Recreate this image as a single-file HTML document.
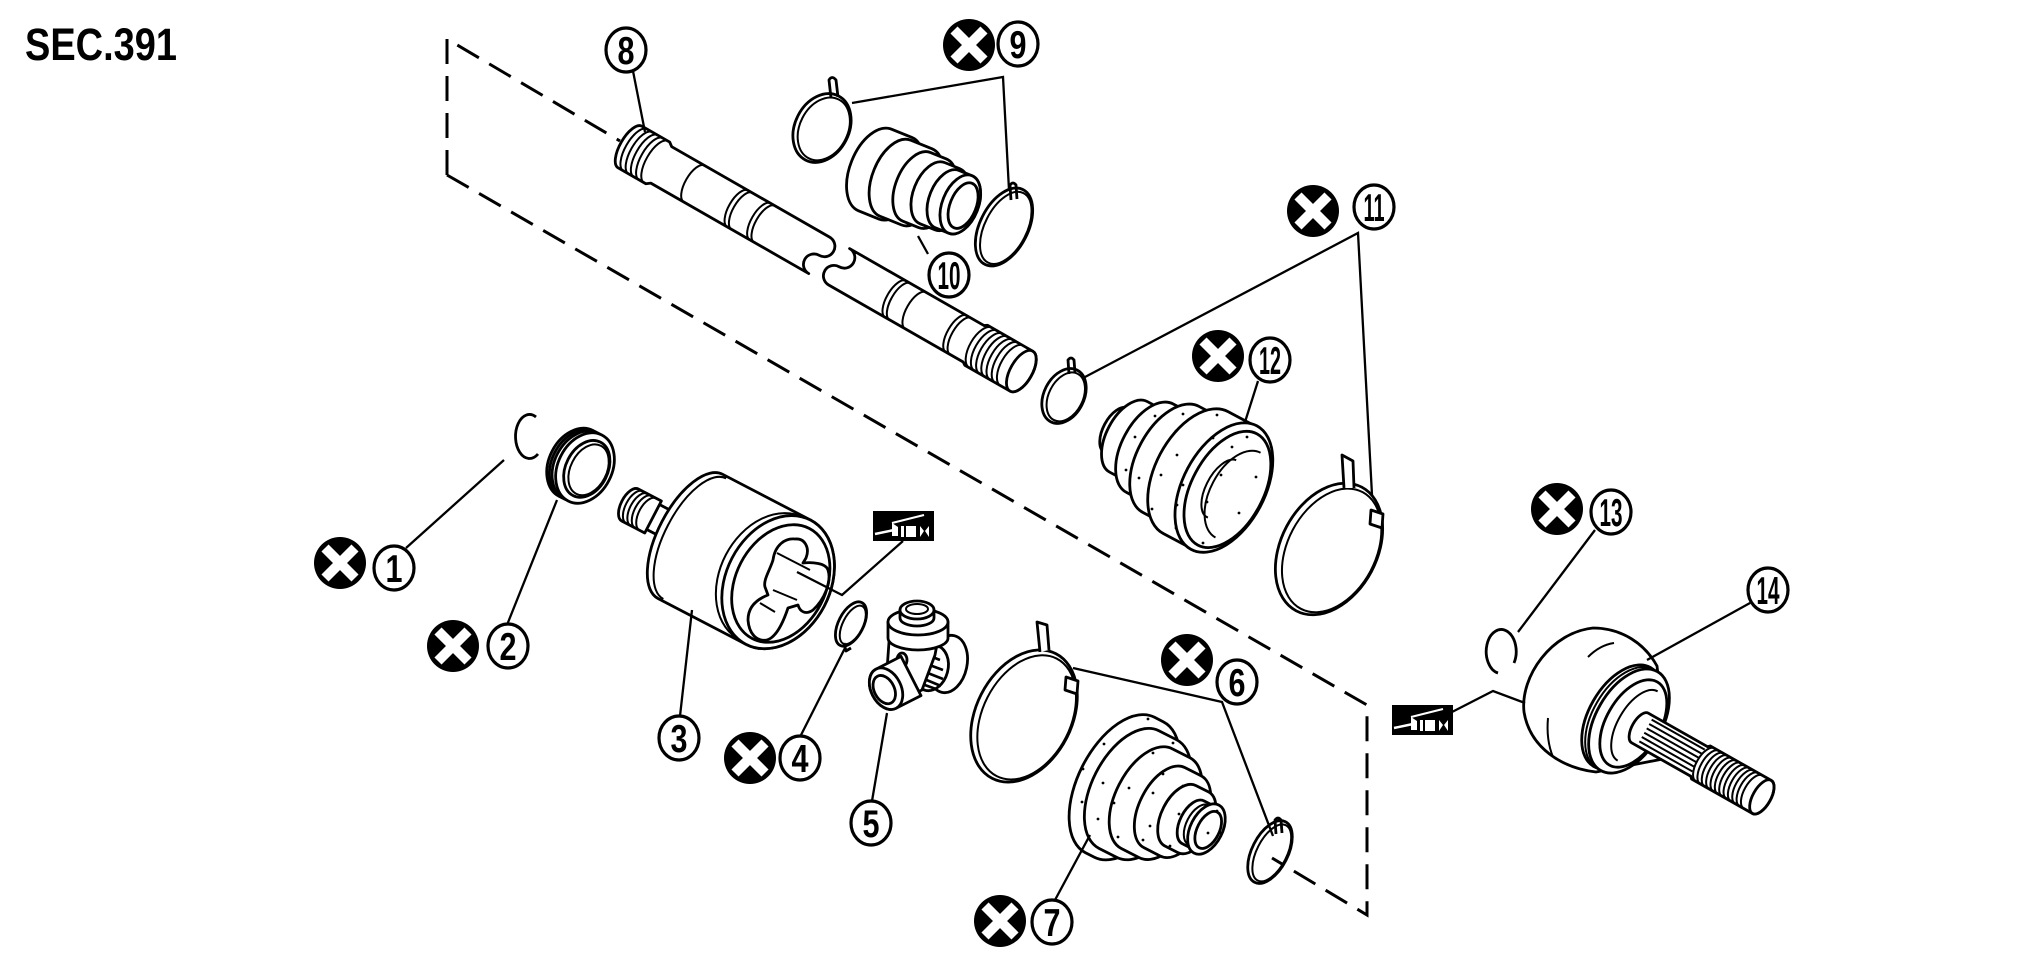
<!DOCTYPE html>
<html><head><meta charset="utf-8"><title>SEC.391</title>
<style>
html,body{margin:0;padding:0;background:#fff;width:2020px;height:969px;overflow:hidden}
svg{display:block}
.p{fill:#fff;stroke:#000;stroke-width:2.8;stroke-linejoin:round}
.n{fill:none;stroke:#000;stroke-width:2.8;stroke-linejoin:round}
.t{fill:none;stroke:#000;stroke-width:2}
.l{fill:none;stroke:#000;stroke-width:2.3}
.d{fill:none;stroke:#000;stroke-width:3;stroke-dasharray:25 12}
.c{fill:#fff;stroke:#000;stroke-width:3.2}
.num{font-family:"Liberation Sans",sans-serif;font-weight:bold;font-size:39px;text-anchor:middle;fill:#000}
.w{stroke:#fff;stroke-width:10;fill:none}
.wl{stroke:#fff;fill:none}
</style></head><body>
<svg width="2020" height="969" viewBox="0 0 2020 969" xmlns="http://www.w3.org/2000/svg">
<rect width="2020" height="969" fill="#fff"/>
<text x="25" y="60" font-family="'Liberation Sans', sans-serif" font-weight="bold" font-size="45" textLength="152" lengthAdjust="spacingAndGlyphs">SEC.391</text>

<!-- dashed frame -->
<path class="d" d="M447,175 L447,39 L620,141"/>
<path class="d" d="M447,175 L1367,705 L1367,915 L1272,858"/>

<!-- shaft 8 -->
<g transform="translate(630,147) rotate(29.8)">
 <path class="p" d="M0,-24 L32,-24 L36,-21 L218,-21 A10.5 10.5 0 0 1 218,0 A10.5 10.5 0 0 0 218,21 L36,21 L32,24 L0,24 A10 24 0 0 1 0,-24 Z"/>
 <path class="t" d="M6,-24A10 24 0 0 0 6,24M12,-24A10 24 0 0 0 12,24M18,-24A10 24 0 0 0 18,24M24,-24A10 24 0 0 0 24,24M30,-24A10 24 0 0 0 30,24"/>
 <path class="t" d="M74,-21A9 21 0 0 0 74,21M124,-21A9 21 0 0 0 124,21M129,-21A9 21 0 0 0 129,21M150,-21A9 21 0 0 0 150,21M155,-21A9 21 0 0 0 155,21"/>
 <path class="p" d="M241,-21 L396,-21 L399,-23 L451,-23 A11 23 0 0 1 451,23 L399,23 L396,21 L241,21 A10.5 10.5 0 0 1 241,0 A10.5 10.5 0 0 0 241,-21 Z"/>
 <ellipse class="n" cx="451" cy="0" rx="11" ry="23"/>
 <path class="t" d="M306,-21A9 21 0 0 0 306,21M311,-21A9 21 0 0 0 311,21M329,-21A9 21 0 0 0 329,21M376,-21A9 21 0 0 0 376,21M381,-21A9 21 0 0 0 381,21"/>
 <path class="t" d="M404,-23A11 23 0 0 0 404,23M410,-23A11 23 0 0 0 410,23M416,-23A11 23 0 0 0 416,23M422,-23A11 23 0 0 0 422,23M428,-23A11 23 0 0 0 428,23M434,-23A11 23 0 0 0 434,23M440,-23A11 23 0 0 0 440,23"/>
</g>

<!-- boot 10 -->
<g transform="translate(875,170) rotate(22)">
 <path class="p" d="M22,-44 L0,-44 A25 44 0 0 0 0,44 L22,44 A25 44 0 0 0 22,-44 Z"/>
 <path class="p" d="M45,-41 L22,-41 A23 41 0 0 0 22,41 L45,41 A23 41 0 0 0 45,-41 Z"/>
 <path class="p" d="M62,-37 L45,-37 A21 37 0 0 0 45,37 L62,37 A21 37 0 0 0 62,-37 Z"/>
 <path class="p" d="M78,-33 L62,-33 A19 33 0 0 0 62,33 L78,33 A19 33 0 0 0 78,-33 Z"/>
 <path class="p" d="M92,-31 L78,-31 A18 31 0 0 0 78,31 L92,31 A18 31 0 0 0 92,-31 Z"/>
 <ellipse class="p" cx="92" cy="0" rx="18" ry="31"/>
 <ellipse class="n" cx="95" cy="0" rx="13" ry="24"/>
</g>

<!-- bands 9 -->
<g transform="translate(822,128) rotate(27)">
 <ellipse class="n" cx="0" cy="0" rx="27" ry="36"/>
 <ellipse class="t" cx="2" cy="0" rx="24" ry="33"/>
</g>
<path class="n" d="M831,98 L829,80 Q832,75 836,80 L838,97"/>
<g transform="translate(1004,227) rotate(27)">
 <ellipse class="n" cx="0" cy="0" rx="24" ry="42"/>
 <ellipse class="t" cx="2" cy="0" rx="21" ry="39"/>
</g>
<path class="n" d="M1011,200 L1010,185 Q1013,181 1016,185 L1017,199"/>

<!-- small band 11 -->
<g transform="translate(1064,396) rotate(27)">
 <ellipse class="n" cx="0" cy="0" rx="20" ry="29"/>
 <ellipse class="t" cx="2" cy="0" rx="17" ry="26"/>
</g>
<path class="n" d="M1069,374 L1068,360 Q1071,356 1074,360 L1075,373"/>

<!-- boot 12 -->
<g transform="translate(1125,435) rotate(28)">
 <path class="p" d="M4,-25 L-10,-25 A13 25 0 0 0 -10,25 L4,25 A13 25 0 0 0 4,-25 Z"/>
 <path class="t" d="M-5,-25 A13 25 0 0 0 -5,25"/>
 <path class="p" d="M28,-40 L4,-40 A22 40 0 0 0 4,40 L28,40 A22 40 0 0 0 28,-40 Z"/>
 <path class="p" d="M52,-50 L28,-50 A28 50 0 0 0 28,50 L52,50 A28 50 0 0 0 52,-50 Z"/>
 <path class="p" d="M80,-60 L52,-60 A34 60 0 0 0 52,60 L80,60 A34 60 0 0 0 80,-60 Z"/>
 <path class="p" d="M112,-69 L80,-69 A40 69 0 0 0 80,69 L112,69 A40 69 0 0 0 112,-69 Z"/>
 <ellipse class="p" cx="112" cy="0" rx="41" ry="70"/>
 <ellipse class="n" cx="116" cy="0" rx="36" ry="63"/>
 <path class="t" d="M128,-48 A28 48 0 0 0 128,48"/>
 <path class="t" d="M110,-30 A16 32 0 0 0 112,34"/>
</g>
<g fill="#000">
 <circle cx="1155" cy="416" r="1.4"/><circle cx="1183" cy="414" r="1.4"/><circle cx="1217" cy="415" r="1.4"/><circle cx="1176" cy="431" r="1.4"/><circle cx="1135" cy="437" r="1.4"/><circle cx="1177" cy="455" r="1.4"/><circle cx="1213" cy="438" r="1.4"/><circle cx="1232" cy="447" r="1.4"/><circle cx="1247" cy="437" r="1.4"/><circle cx="1161" cy="475" r="1.4"/><circle cx="1139" cy="478" r="1.4"/><circle cx="1126" cy="470" r="1.4"/><circle cx="1183" cy="485" r="1.4"/><circle cx="1221" cy="475" r="1.4"/><circle cx="1256" cy="477" r="1.4"/><circle cx="1152" cy="509" r="1.4"/><circle cx="1177" cy="505" r="1.4"/><circle cx="1207" cy="502" r="1.4"/><circle cx="1239" cy="513" r="1.4"/><circle cx="1203" cy="543" r="1.4"/><circle cx="1176" cy="528" r="1.4"/>
</g>

<!-- big band 11 -->
<g transform="translate(1329,549) rotate(28)">
 <ellipse class="n" cx="0" cy="0" rx="48" ry="70"/>
 <ellipse class="t" cx="3" cy="0" rx="44" ry="66"/>
</g>
<path class="p" d="M1344,488 L1342,455 L1353,461 L1354,488"/>
<path class="p" d="M1371,510 L1383,514 L1382,528 L1370,524 Z"/>

<!-- ring 1 -->
<path class="n" d="M536,417 A14 22 0 1 0 538,454"/>

<!-- seal 2 -->
<g transform="translate(585,468) rotate(27)">
 <ellipse class="p" cx="-10" cy="0" rx="27" ry="37"/>
 <ellipse class="p" cx="-7" cy="0" rx="27" ry="37"/>
 <ellipse class="p" cx="-4" cy="0" rx="27" ry="37"/>
 <ellipse class="p" cx="0" cy="0" rx="27" ry="37"/>
 <ellipse class="p" cx="2" cy="0" rx="21" ry="30"/>
 <ellipse class="t" cx="4" cy="0" rx="18" ry="27"/>
</g>

<!-- joint 3 -->
<g transform="translate(630,505) rotate(27.5)">
 <path class="p" d="M24,-14 L52,-14 L52,14 L24,14 Z"/>
 <path class="p" d="M26,-18 L0,-18 A9 18 0 0 0 0,18 L26,18 Z"/>
 <path class="t" d="M5,-18A9 18 0 0 0 5,18M10,-18A9 18 0 0 0 10,18M15,-18A9 18 0 0 0 15,18M20,-18A9 18 0 0 0 20,18"/>
 <path class="p" d="M167,-70 L68,-70 A32 70 0 0 0 68,70 L167,70 A52 70 0 0 0 167,-70 Z"/>
 <path class="t" d="M73,-68 A30 68 0 0 0 73,68"/>
 <ellipse class="p" cx="167" cy="0" rx="52" ry="70"/>
 <path class="t" d="M160,-69 A52 69 0 0 0 160,69"/>
 <ellipse class="n" cx="170" cy="0" rx="45" ry="62"/>
</g>
<path class="n" d="M773,560 C775,545 785,538 795,539 C805,538 810,548 806,558 L803,563 C812,562 826,563 828,570 C832,582 824,600 813,610 C806,615 800,612 798,605 L788,608 C784,620 777,637 767,640 C757,642 749,634 748,620 C748,608 755,600 768,595 L765,587 C763,580 770,570 773,560 Z"/>
<path class="t" d="M777,553 L810,570 M773,590 L797,600 M760,603 L775,612"/>

<!-- ring 4 -->
<g transform="translate(851,624) rotate(27)">
 <ellipse class="n" cx="0" cy="0" rx="12.5" ry="24"/>
 <ellipse class="t" cx="2" cy="0" rx="10" ry="21"/>
</g>
<path class="n" d="M844,643 L846,651 L851,648"/>

<!-- spider 5 -->
<ellipse class="p" cx="948" cy="664" rx="19" ry="29" transform="rotate(12 948 664)"/>
<ellipse class="p" cx="931" cy="668" rx="17" ry="23" transform="rotate(15 931 668)"/>
<path fill="none" stroke="#000" stroke-width="2.6" d="M920,652 L940,660 M916,660 L943,670 M915,668 L943,679 M917,676 L941,686 M922,684 L936,689"/>
<path class="p" d="M890,628 L940,628 L935,655 L922,690 L900,700 L887,670 Z"/>
<ellipse class="n" cx="902" cy="660" rx="5" ry="7"/>
<path class="p" d="M888,622 L888,638 A30 12 0 0 0 948,638 L948,622 Z"/>
<ellipse class="p" cx="918" cy="622" rx="30" ry="13"/>
<path class="p" d="M900,610 L900,618 A17 8 0 0 0 934,618 L934,610 Z"/>
<ellipse class="p" cx="917" cy="610" rx="17" ry="9"/>
<ellipse class="t" cx="917" cy="609" rx="11" ry="5"/>
<g transform="translate(911,676) rotate(153)">
 <path class="p" d="M0,-22 L28,-22 A15 22 0 0 1 28,22 L0,22 Z"/>
 <ellipse class="p" cx="28" cy="0" rx="15" ry="22"/>
 <ellipse class="n" cx="30" cy="0" rx="10" ry="15"/>
</g>

<!-- big band 6 -->
<g transform="translate(1024,716) rotate(27)">
 <ellipse class="n" cx="0" cy="0" rx="48" ry="70"/>
 <ellipse class="t" cx="3" cy="0" rx="44" ry="66"/>
</g>
<path class="p" d="M1040,652 L1037,622 L1047,625 L1049,650"/>
<path class="p" d="M1066,677 L1078,681 L1077,694 L1065,690 Z"/>

<!-- boot 7 -->
<g transform="translate(1120,785) rotate(27)">
 <path class="p" d="M10,-76 L0,-76 A42 76 0 0 0 0,76 L10,76 A42 76 0 0 0 10,-76 Z"/>
 <path class="p" d="M30,-66 L10,-66 A37 66 0 0 0 10,66 L30,66 A37 66 0 0 0 30,-66 Z"/>
 <path class="p" d="M50,-56 L30,-56 A31 56 0 0 0 30,56 L50,56 A31 56 0 0 0 50,-56 Z"/>
 <path class="p" d="M68,-45 L50,-45 A25 45 0 0 0 50,45 L68,45 A25 45 0 0 0 68,-45 Z"/>
 <path class="p" d="M82,-34 L68,-34 A19 34 0 0 0 68,34 L82,34 A19 34 0 0 0 82,-34 Z"/>
 <path class="p" d="M96,-24 L82,-24 A13 24 0 0 0 82,24 L96,24 A13 24 0 0 0 96,-24 Z"/>
 <path class="t" d="M88,-22 A12 22 0 0 0 88,22"/>
 <ellipse class="p" cx="97" cy="0" rx="16" ry="27"/>
 <ellipse class="n" cx="99" cy="0" rx="11" ry="20"/>
</g>
<g fill="#000">
 <circle cx="1104" cy="744" r="1.4"/><circle cx="1083" cy="769" r="1.4"/><circle cx="1103" cy="783" r="1.4"/><circle cx="1082" cy="802" r="1.4"/><circle cx="1098" cy="819" r="1.4"/><circle cx="1114" cy="803" r="1.4"/><circle cx="1118" cy="837" r="1.4"/><circle cx="1129" cy="788" r="1.4"/><circle cx="1153" cy="753" r="1.4"/><circle cx="1173" cy="743" r="1.4"/><circle cx="1163" cy="774" r="1.4"/><circle cx="1153" cy="793" r="1.4"/><circle cx="1150" cy="826" r="1.4"/><circle cx="1143" cy="840" r="1.4"/><circle cx="1183" cy="786" r="1.4"/><circle cx="1179" cy="814" r="1.4"/><circle cx="1170" cy="846" r="1.4"/><circle cx="1148" cy="719" r="1.4"/><circle cx="1208" cy="833" r="1.4"/><circle cx="1221" cy="833" r="1.4"/><circle cx="1217" cy="811" r="1.4"/>
</g>

<!-- small band 6 -->
<g transform="translate(1270,852) rotate(27)">
 <ellipse class="n" cx="0" cy="0" rx="18" ry="34"/>
 <ellipse class="t" cx="2" cy="0" rx="15" ry="31"/>
</g>
<path class="n" d="M1276,834 L1275,820 Q1278,816 1281,820 L1282,833"/>

<!-- O-ring 13 -->
<path class="n" d="M1498,673 A15 22 0 1 1 1514,663"/>

<!-- joint 14 -->
<path class="p" d="M1593,628 C1622,628 1645,644 1657,666 L1668,758 L1596,772 C1562,768 1530,748 1524,712 C1520,676 1552,632 1593,628 Z"/>
<path class="t" d="M1588,657 Q1600,645 1614,643"/>
<path class="t" d="M1548,718 Q1546,740 1553,757"/>
<g transform="translate(1629,721) rotate(30)">
 <ellipse class="p" cx="-8" cy="0" rx="33" ry="57"/>
 <path class="t" d="M-4,-57 A33 57 0 0 0 -4,57"/>
 <ellipse class="p" cx="0" cy="0" rx="33" ry="57"/>
 <ellipse class="n" cx="5" cy="0" rx="27" ry="48"/>
 <path class="t" d="M10,-40 A20 40 0 0 0 10,40"/>
</g>
<g transform="translate(1640,728) rotate(29.5)">
 <path class="p" d="M0,-17 L68,-17 L70,-19 L140,-19 A9 19 0 0 1 140,19 L70,19 L68,17 L0,17 A8 17 0 0 1 0,-17 Z"/>
 <path class="t" d="M6,-13 L67,-13 M6,-8 L67,-8 M6,-3 L67,-3 M6,2 L67,2 M6,7 L67,7 M6,12 L67,12"/>
 <path class="t" d="M75,-19A9 19 0 0 0 75,19M80,-19A9 19 0 0 0 80,19M85,-19A9 19 0 0 0 85,19M90,-19A9 19 0 0 0 90,19M95,-19A9 19 0 0 0 95,19M100,-19A9 19 0 0 0 100,19M105,-19A9 19 0 0 0 105,19M110,-19A9 19 0 0 0 110,19M115,-19A9 19 0 0 0 115,19M120,-19A9 19 0 0 0 120,19M125,-19A9 19 0 0 0 125,19M130,-19A9 19 0 0 0 130,19"/>
 <ellipse class="n" cx="140" cy="0" rx="9" ry="19"/>
</g>

<!-- grease icons -->
<g transform="translate(873,511)">
 <rect width="61" height="30" fill="#000"/>
 <path class="wl" stroke-width="2.5" d="M2,23 L21,19"/>
 <path class="wl" stroke-width="2" d="M19,12 L51,4"/>
 <path fill="#fff" d="M19,12 L19,25 L25,25 L25,16 Z"/>
 <rect x="28" y="15" width="3" height="11" fill="#fff"/>
 <rect x="33" y="15" width="10" height="11" fill="#fff"/>
 <path fill="#fff" d="M47,15 L51,20 L47,26 Z M56,15 L52,20 L56,26 Z"/>
</g>
<g transform="translate(1392,705)">
 <rect width="61" height="30" fill="#000"/>
 <path class="wl" stroke-width="2.5" d="M2,23 L21,19"/>
 <path class="wl" stroke-width="2" d="M19,12 L51,4"/>
 <path fill="#fff" d="M19,12 L19,25 L25,25 L25,16 Z"/>
 <rect x="28" y="15" width="3" height="11" fill="#fff"/>
 <rect x="33" y="15" width="10" height="11" fill="#fff"/>
 <path fill="#fff" d="M47,15 L51,20 L47,26 Z M56,15 L52,20 L56,26 Z"/>
</g>

<!-- leaders -->
<path class="l" d="M504,460 L406,548"/>
<path class="l" d="M557,500 L507,625"/>
<path class="l" d="M692,610 L680,716"/>
<path class="l" d="M845,648 L800,737"/>
<path class="l" d="M887,713 L872,801"/>
<path class="l" d="M1073,668 L1222,702 L1273,836"/>
<path class="l" d="M1090,835 L1055,900"/>
<path class="l" d="M633,71 L645,132"/>
<path class="l" d="M852,103 L1003,77 L1009,190"/>
<path class="l" d="M928,254 L918,236"/>
<path class="l" d="M1085,377 L1358,233 L1372,495"/>
<path class="l" d="M1245,422 L1258,381"/>
<path class="l" d="M1518,632 L1595,530"/>
<path class="l" d="M1647,660 L1750,603"/>
<path class="l" d="M903,541 L842,595 L797,572"/>
<path class="l" d="M1452,712 L1493,691 L1525,703"/>

<!-- X icons -->
<g transform="translate(340,563)"><circle r="26"/><path class="w" d="M-15,-15L15,15M15,-15L-15,15"/></g>
<g transform="translate(453,646)"><circle r="26"/><path class="w" d="M-15,-15L15,15M15,-15L-15,15"/></g>
<g transform="translate(750,758)"><circle r="26"/><path class="w" d="M-15,-15L15,15M15,-15L-15,15"/></g>
<g transform="translate(1187,660)"><circle r="26"/><path class="w" d="M-15,-15L15,15M15,-15L-15,15"/></g>
<g transform="translate(1000,921)"><circle r="26"/><path class="w" d="M-15,-15L15,15M15,-15L-15,15"/></g>
<g transform="translate(969,45)"><circle r="26"/><path class="w" d="M-15,-15L15,15M15,-15L-15,15"/></g>
<g transform="translate(1313,211)"><circle r="26"/><path class="w" d="M-15,-15L15,15M15,-15L-15,15"/></g>
<g transform="translate(1218,356)"><circle r="26"/><path class="w" d="M-15,-15L15,15M15,-15L-15,15"/></g>
<g transform="translate(1557,509)"><circle r="26"/><path class="w" d="M-15,-15L15,15M15,-15L-15,15"/></g>

<!-- number circles -->
<ellipse class="c" cx="394" cy="568" rx="20" ry="22"/><text class="num" x="394" y="582" textLength="17" lengthAdjust="spacingAndGlyphs">1</text>
<ellipse class="c" cx="508" cy="646" rx="20" ry="22"/><text class="num" x="508" y="660" textLength="17" lengthAdjust="spacingAndGlyphs">2</text>
<ellipse class="c" cx="679" cy="738" rx="20" ry="22"/><text class="num" x="679" y="752" textLength="17" lengthAdjust="spacingAndGlyphs">3</text>
<ellipse class="c" cx="800" cy="758" rx="20" ry="22"/><text class="num" x="800" y="772" textLength="17" lengthAdjust="spacingAndGlyphs">4</text>
<ellipse class="c" cx="871" cy="823" rx="20" ry="22"/><text class="num" x="871" y="837" textLength="17" lengthAdjust="spacingAndGlyphs">5</text>
<ellipse class="c" cx="1237" cy="682" rx="20" ry="22"/><text class="num" x="1237" y="696" textLength="17" lengthAdjust="spacingAndGlyphs">6</text>
<ellipse class="c" cx="1052" cy="922" rx="20" ry="22"/><text class="num" x="1052" y="936" textLength="17" lengthAdjust="spacingAndGlyphs">7</text>
<ellipse class="c" cx="626" cy="50" rx="20" ry="22"/><text class="num" x="626" y="64" textLength="17" lengthAdjust="spacingAndGlyphs">8</text>
<ellipse class="c" cx="1018" cy="44" rx="20" ry="22"/><text class="num" x="1018" y="58" textLength="17" lengthAdjust="spacingAndGlyphs">9</text>
<ellipse class="c" cx="949" cy="275" rx="20" ry="22"/><text class="num" x="949" y="289" textLength="23" lengthAdjust="spacingAndGlyphs">10</text>
<ellipse class="c" cx="1374" cy="207" rx="20" ry="22"/><text class="num" x="1374" y="221" textLength="21" lengthAdjust="spacingAndGlyphs">11</text>
<ellipse class="c" cx="1270" cy="360" rx="20" ry="22"/><text class="num" x="1270" y="374" textLength="22" lengthAdjust="spacingAndGlyphs">12</text>
<ellipse class="c" cx="1611" cy="512" rx="20" ry="22"/><text class="num" x="1611" y="526" textLength="23" lengthAdjust="spacingAndGlyphs">13</text>
<ellipse class="c" cx="1768" cy="590" rx="20" ry="22"/><text class="num" x="1768" y="604" textLength="23" lengthAdjust="spacingAndGlyphs">14</text>
</svg>
</body></html>
